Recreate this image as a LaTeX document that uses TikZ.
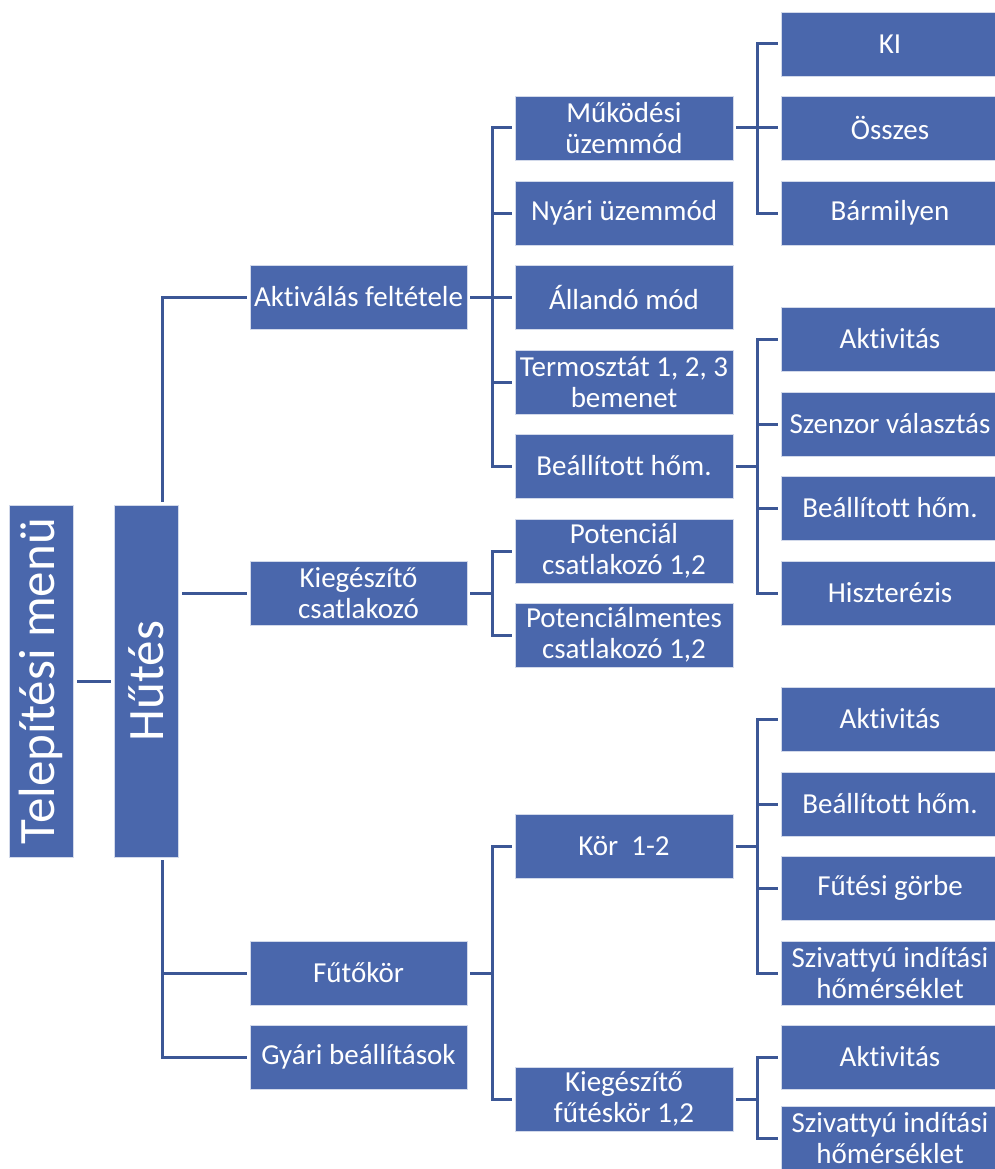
\documentclass[tikz,border=0pt]{standalone}
\usepackage{fontspec}
\setmainfont{Carlito}[Ligatures=NoCommon]
\definecolor{boxblue}{HTML}{4A67AC}
\definecolor{linkblue}{HTML}{3C5796}
\begin{document}
\begin{tikzpicture}[x=1pt,y=-1pt,
 bx/.style={rectangle, fill=boxblue, draw=white!75!boxblue, line width=0.8pt, text=white, inner sep=0pt, align=center, minimum height=64pt, font=\fontsize{29}{31.5}\selectfont},
 l2/.style={bx, minimum width=217pt},
 l3/.style={bx, minimum width=218pt},
 l4/.style={bx, minimum width=218pt},
 big/.style={bx, rotate=90, minimum width=352pt, minimum height=64pt, font=\fontsize{51}{55}\selectfont},
 conn/.style={draw=linkblue, line width=3pt},
 lk/.style={conn, shorten >=3pt},
 ]
\useasboundingbox (0,0) rectangle (995,1169);
% level 0/1
\node[big] (tel) at (41,681) {Telepítési menü};
\node[big] (hut) at (146,681) {Hűtés};
% level 2
\node[l2] (akt) at (358.5,297) {Aktiválás feltétele};
\node[l2] (kcs) at (358.5,593) {Kiegészítő\\csatlakozó};
\node[l2] (fut) at (358.5,973) {Fűtőkör};
\node[l2] (gyar) at (358.5,1057) {Gyári beállítások};
% level 3
\node[l3] (mukod) at (624,128) {Működési\\üzemmód};
\node[l3] (nyari) at (624,213) {Nyári üzemmód};
\node[l3] (alland) at (624,297) {Állandó mód};
\node[l3] (termo) at (624,382) {Termosztát 1, 2, 3\\bemenet};
\node[l3] (beall) at (624,466) {Beállított hőm.};
\node[l3] (pot) at (624,551) {Potenciál\\csatlakozó 1,2};
\node[l3] (potm) at (624,635) {Potenciálmentes\\csatlakozó 1,2};
\node[l3] (kor) at (624,846) {Kör\ \ 1-2};
\node[l3] (kieg) at (624,1099) {Kiegészítő\\fűtéskör 1,2};
% level 4
\node[l4] (ki) at (890,44) {KI};
\node[l4] (ossz) at (890,128) {Összes};
\node[l4] (barm) at (890,213) {Bármilyen};
\node[l4] (aktA) at (890,339) {Aktivitás};
\node[l4] (szen) at (890,424) {Szenzor választás};
\node[l4] (bealA) at (890,508) {Beállított hőm.};
\node[l4] (hiszt) at (890,593) {Hiszterézis};
\node[l4] (aktB) at (890,719) {Aktivitás};
\node[l4] (bealB) at (890,804) {Beállított hőm.};
\node[l4] (gorbe) at (890,888) {Fűtési görbe};
\node[l4] (szivA) at (890,973) {Szivattyú indítási\\hőmérséklet};
\node[l4] (aktC) at (890,1057) {Aktivitás};
\node[l4] (szivB) at (890,1138) {Szivattyú indítási\\hőmérséklet};
% spines
\coordinate (s1) at (492,0);
\coordinate (s2) at (757,0);
% level 0 -> 1
\draw[lk, shorten <=4pt] (tel) -- (hut);
% level 1 -> 2
\coordinate (hT) at ([xshift=16pt]hut.east);
\coordinate (hB) at ([xshift=16pt]hut.west);
\draw[lk, shorten <=3pt] (hT) |- (akt.west);
\draw[lk, shorten <=3pt] (hB) |- (fut.west);
\draw[lk, shorten <=3pt] (hB) |- (gyar.west);
\draw[lk, shorten <=4pt] (kcs.west -| hut.south) -- (kcs.west);
% stubs
\foreach \p/\s in {akt/s1, kcs/s1, fut/s1, mukod/s2, beall/s2, kor/s2, kieg/s2}
  \draw[conn, shorten <=3pt] (\p.east) -- (\p.east -| \s);
% branches
\foreach \c in {mukod,nyari,alland,termo,beall}
  \draw[lk] (akt.east -| s1) |- (\c.west);
\foreach \c in {pot,potm}
  \draw[lk] (kcs.east -| s1) |- (\c.west);
\foreach \c in {kor,kieg}
  \draw[lk] (fut.east -| s1) |- (\c.west);
\foreach \c in {ki,ossz,barm}
  \draw[lk] (mukod.east -| s2) |- (\c.west);
\foreach \c in {aktA,szen,bealA,hiszt}
  \draw[lk] (beall.east -| s2) |- (\c.west);
\foreach \c in {aktB,bealB,gorbe,szivA}
  \draw[lk] (kor.east -| s2) |- (\c.west);
\foreach \c in {aktC,szivB}
  \draw[lk] (kieg.east -| s2) |- (\c.west);
\end{tikzpicture}
\end{document}
